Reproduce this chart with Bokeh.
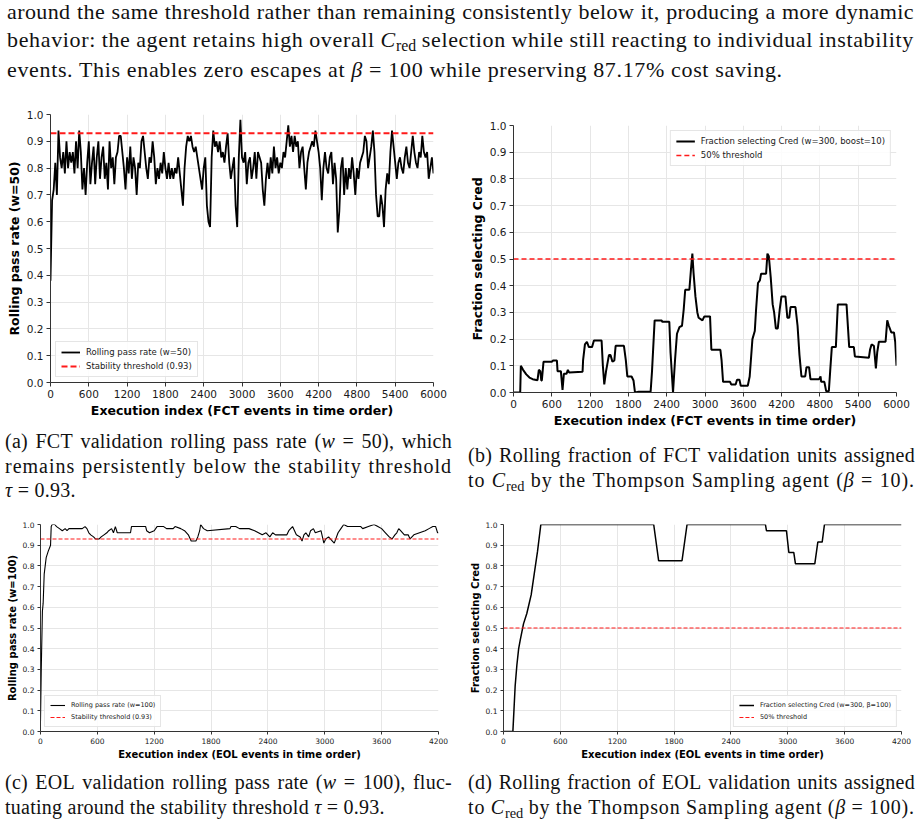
from bokeh.plotting import figure
from bokeh.models import (Range1d, FixedTicker, PrintfTickFormatter, Div,
                          Legend, LegendItem)
from bokeh.layouts import column, row
from bokeh.embed import file_html
from bokeh.resources import INLINE

# ---------------------------------------------------------------- data
# (a) FCT rolling pass rate, w=50, sampled every 25 events
FCT_PASS_IDX = list(range(0, 6001, 25))
FCT_PASS = [
    0.38, 0.68, 0.72, 0.82, 0.70, 0.94, 0.84, 0.80, 0.86, 0.78, 0.90, 0.80,
    0.86, 0.82, 0.86, 0.78, 0.90, 0.80, 0.94, 0.86, 0.72, 0.80, 0.70, 0.82,
    0.90, 0.74, 0.82, 0.88, 0.74, 0.84, 0.90, 0.76, 0.84, 0.88, 0.76, 0.82,
    0.72, 0.90, 0.80, 0.84, 0.74, 0.84, 0.86, 0.92, 0.92, 0.86, 0.80, 0.72,
    0.84, 0.78, 0.88, 0.76, 0.84, 0.80, 0.70, 0.82, 0.80, 0.90, 0.92, 0.86,
    0.80, 0.76, 0.84, 0.82, 0.90, 0.84, 0.74, 0.80, 0.76, 0.82, 0.78, 0.86,
    0.80, 0.76, 0.82, 0.76, 0.80, 0.76, 0.80, 0.78, 0.84, 0.78, 0.72, 0.66,
    0.80, 0.88, 0.92, 0.90, 0.92, 0.88, 0.86, 0.88, 0.84, 0.80, 0.76, 0.72,
    0.80, 0.84, 0.66, 0.60, 0.58, 0.84, 0.94, 0.88, 0.90, 0.86, 0.90, 0.84,
    0.86, 0.82, 0.88, 0.93, 0.82, 0.76, 0.80, 0.84, 0.66, 0.58, 0.84, 0.98,
    0.84, 0.82, 0.86, 0.74, 0.82, 0.84, 0.76, 0.80, 0.86, 0.76, 0.86, 0.84,
    0.82, 0.72, 0.66, 0.76, 0.82, 0.76, 0.84, 0.78, 0.88, 0.80, 0.84, 0.78,
    0.82, 0.80, 0.86, 0.84, 0.90, 0.96, 0.88, 0.92, 0.86, 0.92, 0.88, 0.90,
    0.80, 0.86, 0.88, 0.80, 0.72, 0.82, 0.86, 0.88, 0.90, 0.88, 0.94, 0.90,
    0.86, 0.80, 0.68, 0.80, 0.86, 0.80, 0.78, 0.84, 0.86, 0.74, 0.82, 0.76,
    0.56, 0.64, 0.80, 0.84, 0.70, 0.80, 0.72, 0.80, 0.76, 0.84, 0.78, 0.70,
    0.80, 0.76, 0.82, 0.84, 0.86, 0.92, 0.90, 0.80, 0.84, 0.88, 0.94, 0.86,
    0.70, 0.62, 0.62, 0.70, 0.66, 0.58, 0.72, 0.78, 0.74, 0.86, 0.94, 0.88,
    0.82, 0.76, 0.82, 0.84, 0.80, 0.78, 0.84, 0.88, 0.82, 0.80, 0.86, 0.92,
    0.86, 0.82, 0.80, 0.86, 0.84, 0.92, 0.86, 0.84, 0.86, 0.76, 0.80, 0.84,
    0.78,
]

# (b) FCT fraction selecting Cred, w=300, boost=10
FCT_FRAC_IDX = [
    0, 105, 115, 150, 200, 250, 300, 376, 397, 420, 435, 444, 470, 600, 620,
    680, 690, 742, 768, 789, 830, 852, 870, 1082, 1090, 1119, 1150, 1181,
    1230, 1260, 1380, 1400, 1422, 1450, 1495, 1520, 1550, 1580, 1600, 1730,
    1760, 1783, 1850, 1880, 1903, 1960, 2148, 2170, 2211, 2321, 2330, 2441,
    2460, 2499, 2530, 2561, 2600, 2640, 2666, 2690, 2755, 2780, 2802, 2820,
    2850, 2880, 2900, 2960, 2990, 3079, 3100, 3241, 3260, 3283, 3393, 3410,
    3480, 3502, 3540, 3560, 3670, 3700, 3743, 3780, 3800, 3830, 3860, 3879,
    3957, 3978, 4000, 4030, 4060, 4083, 4110, 4140, 4170, 4198, 4260, 4290,
    4320, 4340, 4417, 4450, 4480, 4511, 4570, 4590, 4630, 4652, 4788, 4810,
    4820, 4870, 4898, 4940, 4961, 4987, 5050, 5081, 5217, 5259, 5332, 5348,
    5567, 5585, 5609, 5646, 5677, 5698, 5724, 5829, 5855, 5880, 5918, 5960,
    5980, 6000,
]
FCT_FRAC = [
    0.0, 0.0, 0.10, 0.085, 0.068, 0.056, 0.05, 0.046, 0.085, 0.08, 0.045,
    0.045, 0.115, 0.115, 0.12, 0.12, 0.08, 0.08, 0.01, 0.07, 0.07, 0.085,
    0.075, 0.078, 0.12, 0.18, 0.19, 0.17, 0.17, 0.195, 0.195, 0.10, 0.03,
    0.08, 0.14, 0.14, 0.115, 0.12, 0.175, 0.175, 0.12, 0.06, 0.06, 0.045,
    0.0, 0.003, 0.003, 0.08, 0.27, 0.27, 0.265, 0.265, 0.15, 0.0, 0.12, 0.22,
    0.245, 0.25, 0.31, 0.385, 0.385, 0.46, 0.52, 0.45, 0.36, 0.30, 0.28,
    0.27, 0.285, 0.285, 0.16, 0.16, 0.12, 0.04, 0.04, 0.03, 0.03, 0.048,
    0.048, 0.025, 0.025, 0.06, 0.20, 0.23, 0.31, 0.41, 0.42, 0.445, 0.445,
    0.52, 0.51, 0.43, 0.33, 0.30, 0.24, 0.24, 0.31, 0.36, 0.36, 0.28, 0.28,
    0.32, 0.32, 0.25, 0.14, 0.06, 0.06, 0.095, 0.095, 0.05, 0.05, 0.06,
    0.04, 0.04, 0.005, 0.005, 0.08, 0.17, 0.17, 0.33, 0.33, 0.17, 0.17,
    0.135, 0.13, 0.16, 0.18, 0.175, 0.09, 0.15, 0.19, 0.19, 0.27, 0.25,
    0.225, 0.225, 0.19, 0.10,
]

# (c) EOL rolling pass rate, w=100
EOL_PASS_IDX = [
    0, 8, 20, 28, 39, 60, 81, 106, 113, 123, 150, 170, 200, 230, 260, 280,
    300, 440, 470, 490, 510, 530, 560, 580, 620, 640, 670, 700, 720, 750,
    770, 790, 810, 950, 960, 1110, 1120, 1150, 1200, 1230, 1300, 1330, 1400,
    1420, 1480, 1520, 1560, 1590, 1640, 1660, 1680, 1690, 1720, 1760, 2000,
    2010, 2060, 2100, 2200, 2260, 2300, 2340, 2380, 2420, 2450, 2480, 2600,
    2620, 2660, 2700, 2740, 2760, 2780, 2800, 2830, 2850, 2880, 2900, 2960,
    2990, 3010, 3040, 3080, 3100, 3140, 3170, 3200, 3240, 3380, 3400, 3460,
    3520, 3560, 3600, 3640, 3680, 3710, 3740, 3760, 3780, 3800, 3840, 3880,
    3900, 3940, 4000, 4060, 4100, 4140, 4170, 4190, 4200,
]
EOL_PASS = [
    0.05, 0.30, 0.58, 0.62, 0.76, 0.84, 0.87, 0.90, 0.99, 1.00, 1.00, 0.99,
    0.98, 0.97, 0.98, 0.97, 0.98, 0.98, 0.99, 0.98, 0.96, 0.95, 0.94, 0.93,
    0.93, 0.94, 0.95, 0.96, 0.97, 0.98, 0.96, 0.99, 0.96, 0.96, 0.99, 0.99,
    0.97, 0.96, 0.97, 0.99, 0.99, 0.98, 0.98, 0.99, 0.98, 0.97, 0.95, 0.92,
    0.92, 0.94, 0.97, 1.00, 0.98, 0.97, 0.98, 0.99, 0.99, 0.98, 0.98, 0.97,
    0.96, 0.95, 0.96, 0.94, 0.96, 0.95, 0.95, 0.97, 0.99, 0.95, 0.94, 0.92,
    0.95, 0.96, 0.94, 0.97, 0.98, 0.96, 0.97, 0.91, 0.93, 0.94, 0.92, 0.91,
    0.96, 0.98, 1.00, 0.99, 0.99, 0.98, 0.99, 1.00, 0.99, 0.98, 0.96, 0.94,
    0.93, 0.95, 0.96, 0.98, 0.97, 0.95, 0.95, 0.93, 0.95, 0.96, 0.97, 0.98,
    0.99, 0.99, 0.96, 0.96,
]

# (d) EOL fraction selecting Cred, w=300, beta=100
EOL_FRAC_IDX = [
    0, 99, 110, 123, 141, 160, 176, 211, 246, 292, 324, 359, 394, 1585, 1637,
    1884, 1937, 2764, 2775, 2986, 3011, 3063, 3081, 3285, 3317, 3363, 3387,
    4200,
]
EOL_FRAC = [
    0.0, 0.0, 0.10, 0.22, 0.32, 0.40, 0.44, 0.52, 0.57, 0.66, 0.76, 0.87,
    1.0, 1.0, 0.825, 0.825, 1.0, 1.0, 0.97, 0.97, 0.865, 0.865, 0.81, 0.81,
    0.915, 0.915, 1.0, 1.0,
]

STABILITY_THRESHOLD = 0.93
HALF_THRESHOLD = 0.5

FCT_TICKS = [0, 600, 1200, 1800, 2400, 3000, 3600, 4200, 4800, 5400, 6000]
EOL_TICKS = [0, 600, 1200, 1800, 2400, 3000, 3600, 4200]
Y_TICKS = [0.0, 0.1, 0.2, 0.3, 0.4, 0.5, 0.6, 0.7, 0.8, 0.9, 1.0]

# ---------------------------------------------------------------- styling
SANS = "DejaVu Sans"
SERIF = "Liberation Serif"
TXT = "#1a1a1a"


def panel(xs, ys, thr, xticks, xlabel, ylabel, labels, loc, *,
          width, height, left, right, top, bottom,
          tick_fs, label_fs, legend_fs, lw, dash_w, dash, glyph_w,
          legend_margin, tick_len):
    p = figure(width=width, height=height, output_backend="svg",
               toolbar_location=None, frame_align=False,
               x_range=Range1d(xticks[0], xticks[-1]),
               y_range=Range1d(Y_TICKS[0], Y_TICKS[-1]),
               min_border_left=left, min_border_right=right,
               min_border_top=top, min_border_bottom=bottom)
    p.outline_line_color = None
    p.background_fill_color = "white"
    p.border_fill_color = "white"

    for ax, ticks, fmt, lab in ((p.xaxis[0], xticks, "%d", xlabel),
                                (p.yaxis[0], Y_TICKS, "%.1f", ylabel)):
        ax.ticker = FixedTicker(ticks=ticks)
        ax.formatter = PrintfTickFormatter(format=fmt)
        ax.axis_label = lab
        ax.axis_label_text_font = SANS
        ax.axis_label_text_font_style = "bold"
        ax.axis_label_text_font_size = label_fs
        ax.axis_label_text_color = "black"
        ax.axis_label_standoff = 2
        ax.major_label_text_font = SANS
        ax.major_label_text_font_size = tick_fs
        ax.major_label_text_color = TXT
        ax.major_label_standoff = 3
        ax.major_tick_in = 0
        ax.major_tick_out = tick_len
        ax.minor_tick_in = 0
        ax.minor_tick_out = 0
        ax.axis_line_color = "#333333"
        ax.major_tick_line_color = "#333333"

    p.grid.grid_line_color = "#e6e6e6"
    p.grid.grid_line_width = 1

    r1 = p.line(xs, ys, line_color="black", line_width=lw)
    r2 = p.line([xticks[0], xticks[-1]], [thr, thr], line_color="#ff1a1a",
                line_width=dash_w, line_dash=dash)

    leg = Legend(items=[LegendItem(label=labels[0], renderers=[r1]),
                        LegendItem(label=labels[1], renderers=[r2])],
                 location=loc)
    leg.label_text_font = SANS
    leg.label_text_font_size = legend_fs
    leg.label_text_color = TXT
    leg.label_height = 8
    leg.glyph_height = 8
    leg.glyph_width = glyph_w
    leg.label_standoff = 6
    leg.spacing = 4
    leg.padding = 5
    leg.margin = legend_margin
    leg.border_line_color = "#cccccc"
    leg.border_line_width = 1
    leg.background_fill_alpha = 0.85
    p.add_layout(leg)
    return p


# subscripted C_red, inserted after the words of a line are split
CRED = ('<i>C</i><span style="font-size:0.72em;position:relative;'
        'top:0.28em;letter-spacing:0;">red</span>')


def text_block(lines, width, height, left, top, text_w, fs, lh, ls):
    """Serif text set line by line; full lines are spread edge to edge."""
    body = ""
    for txt, just, extra in lines:
        style = f"white-space:nowrap;letter-spacing:{ls + extra}px;"
        if just:
            words = "".join(f"<span>{w.replace('@CRED@', CRED)}</span>"
                            for w in txt.split(" "))
            body += ('<div style="display:flex;justify-content:'
                     f'space-between;{style}">{words}</div>')
        else:
            body += (f'<div style="{style}">'
                     f'{txt.replace("@CRED@", CRED)}</div>')
    html = (f'<div style="position:relative;left:{left}px;top:{top}px;'
            f'width:{text_w}px;font-family:\'{SERIF}\',serif;'
            f'font-size:{fs}px;line-height:{lh}px;color:#111;">{body}</div>')
    return Div(text=html, width=width, height=height, margin=0)


para = text_block([
    ("around the same threshold rather than remaining consistently below "
     "it, producing a more dynamic", True, 0.0),
    ("behavior: the agent retains high overall @CRED@ selection while "
     "still reacting to individual instability", True, 0.25),
    ("events. This enables zero escapes at <i>β</i> = 100 while preserving "
     "87.17% cost saving.", False, 0.25),
], 920, 100, 7, -2, 907, 22, 28, 0.4)

fig_a = panel(FCT_PASS_IDX, FCT_PASS, STABILITY_THRESHOLD, FCT_TICKS,
              "Execution index (FCT events in time order)",
              "Rolling pass rate (w=50)",
              ["Rolling pass rate (w=50)", "Stability threshold (0.93)"],
              "bottom_left",
              width=460, height=330, left=50, right=27, top=14, bottom=48,
              tick_fs="10.5px", label_fs="12.5px", legend_fs="8.5px",
              lw=1.8, dash_w=2, dash="6 3", glyph_w=19, legend_margin=5,
              tick_len=4)

fig_b = panel(FCT_FRAC_IDX, FCT_FRAC, HALF_THRESHOLD, FCT_TICKS,
              "Execution index (FCT events in time order)",
              "Fraction selecting Cred",
              ["Fraction selecting Cred (w=300, boost=10)", "50% threshold"],
              "top_right",
              width=460, height=330, left=53, right=24, top=25, bottom=36,
              tick_fs="10.5px", label_fs="12.5px", legend_fs="8.5px",
              lw=2, dash_w=1.5, dash="5 3", glyph_w=19, legend_margin=5,
              tick_len=4)

cap_a = text_block([
    ("(a) FCT validation rolling pass rate (<i>w</i> = 50), which",
     True, 0.0),
    ("remains persistently below the stability threshold", True, 0.75),
    ("<i>τ</i> = 0.93.", False, 0.0),
], 460, 85, 5, -1, 447, 20, 24.5, 0.25)

cap_b = text_block([
    ("(b) Rolling fraction of FCT validation units assigned", True, 0.0),
    ("to @CRED@ by the Thompson Sampling agent (<i>β</i> = 10).",
     True, 0.65),
], 460, 85, 8, 13, 447, 20, 24.5, 0.25)

fig_c = panel(EOL_PASS_IDX, EOL_PASS, STABILITY_THRESHOLD, EOL_TICKS,
              "Execution index (EOL events in time order)",
              "Rolling pass rate (w=100)",
              ["Rolling pass rate (w=100)", "Stability threshold (0.93)"],
              "bottom_left",
              width=460, height=247, left=40, right=22, top=9, bottom=30,
              tick_fs="7.5px", label_fs="10px", legend_fs="6.5px",
              lw=1.1, dash_w=1.2, dash="4 2", glyph_w=15, legend_margin=4,
              tick_len=3)

fig_d = panel(EOL_FRAC_IDX, EOL_FRAC, HALF_THRESHOLD, EOL_TICKS,
              "Execution index (EOL events in time order)",
              "Fraction selecting Cred",
              ["Fraction selecting Cred (w=300, β=100)", "50% threshold"],
              "bottom_right",
              width=460, height=247, left=43, right=19, top=9, bottom=30,
              tick_fs="7.5px", label_fs="10px", legend_fs="6.5px",
              lw=1.5, dash_w=1.2, dash="4 2", glyph_w=15, legend_margin=4,
              tick_len=3)

cap_c = text_block([
    ("(c) EOL validation rolling pass rate (<i>w</i> = 100), fluc-",
     True, 0.0),
    ("tuating around the stability threshold <i>τ</i> = 0.93.", False, 0.0),
], 460, 63, 5, 8, 447, 20, 24.5, 0.25)

cap_d = text_block([
    ("(d) Rolling fraction of EOL validation units assigned", True, 0.0),
    ("to @CRED@ by the Thompson Sampling agent (<i>β</i> = 100).",
     True, 0.6),
], 460, 63, 8, 8, 447, 20, 24.5, 0.25)

page = column(para,
              row(fig_a, fig_b, spacing=0),
              row(cap_a, cap_b, spacing=0),
              row(fig_c, fig_d, spacing=0),
              row(cap_c, cap_d, spacing=0),
              spacing=0)

open("out.html", "w").write(file_html(page, INLINE))
